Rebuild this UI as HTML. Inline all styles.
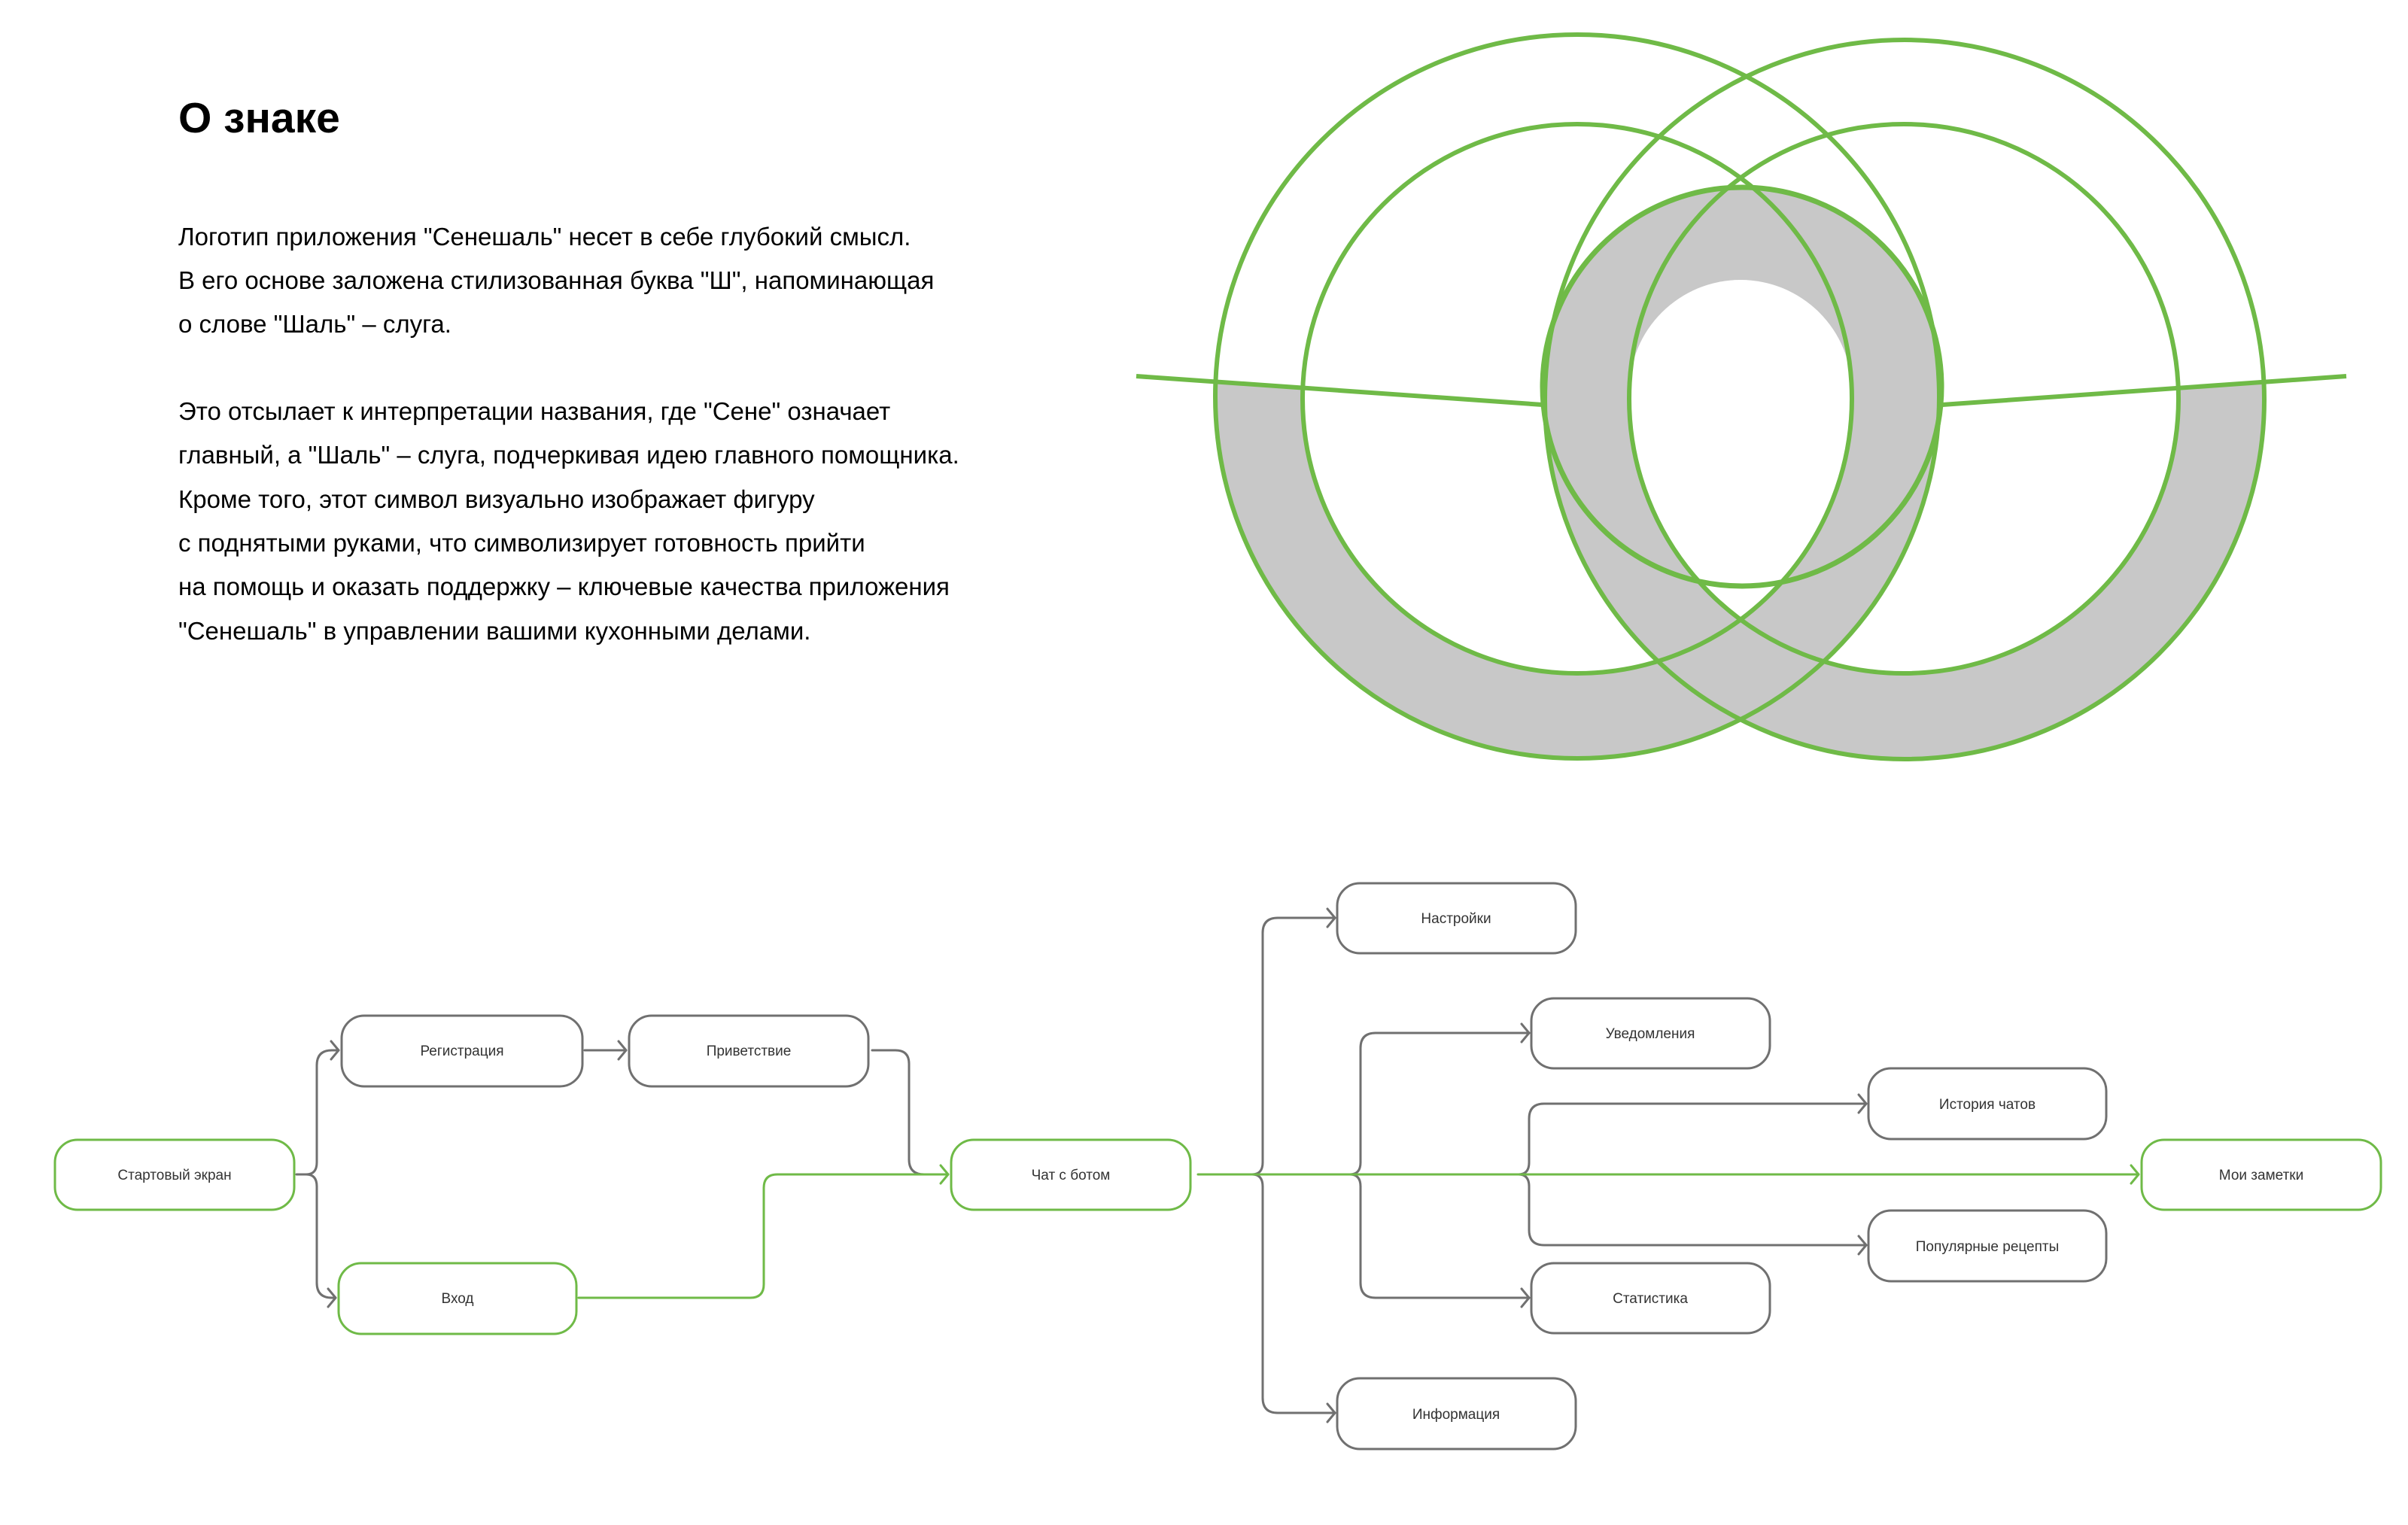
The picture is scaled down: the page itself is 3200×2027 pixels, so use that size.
<!DOCTYPE html>
<html><head><meta charset="utf-8">
<style>
html,body{margin:0;padding:0;background:#fff;}
svg{display:block;}
text{font-family:"Liberation Sans","Noto Sans CJK SC",sans-serif;}
</style></head>
<body>
<svg width="3200" height="2027" viewBox="0 0 3200 2027" xmlns="http://www.w3.org/2000/svg">
<defs>
<clipPath id="below"><polygon points="1506,499 2050,537 2581,537 3118,499 3118,1100 1506,1100"/></clipPath>
<clipPath id="cL"><circle cx="2096" cy="530" r="365"/></clipPath>
<clipPath id="cR"><circle cx="2530" cy="530" r="365"/></clipPath>
</defs>

<!-- Text -->
<text x="237" y="176" font-size="57" font-weight="bold" fill="#000">О знаке</text>
<g font-size="33" fill="#000">
<text x="237" y="326">Логотип приложения "Сенешаль" несет в себе глубокий смысл.</text>
<text x="237" y="384">В его основе заложена стилизованная буква "Ш", напоминающая</text>
<text x="237" y="442">о слове "Шаль" – слуга.</text>
<text x="237" y="558">Это отсылает к интерпретации названия, где "Сене" означает</text>
<text x="237" y="616">главный, а "Шаль" – слуга, подчеркивая идею главного помощника.</text>
<text x="237" y="675">Кроме того, этот символ визуально изображает фигуру</text>
<text x="237" y="733">с поднятыми руками, что символизирует готовность прийти</text>
<text x="237" y="791">на помощь и оказать поддержку – ключевые качества приложения</text>
<text x="237" y="850">"Сенешаль" в управлении вашими кухонными делами.</text>
</g>

<!-- Logo -->
<g clip-path="url(#below)" fill="#c8c8c8" fill-rule="evenodd">
<path d="M1615,527 a481,481 0 1,0 962,0 a481,481 0 1,0 -962,0 Z M1731,530 a365,365 0 1,0 730,0 a365,365 0 1,0 -730,0 Z"/>
<path d="M2053,531 a478,478 0 1,0 956,0 a478,478 0 1,0 -956,0 Z M2165,530 a365,365 0 1,0 730,0 a365,365 0 1,0 -730,0 Z"/>
</g>
<circle cx="2315" cy="514" r="265" fill="#c8c8c8"/>
<g clip-path="url(#cL)"><g clip-path="url(#cR)" fill="#fff">
<circle cx="2313" cy="520" r="148"/>
<rect x="2100" y="520" width="430" height="400"/>
</g></g>
<g fill="none" stroke="#6fba47" stroke-width="6">
<circle cx="2096" cy="527" r="481"/>
<circle cx="2531" cy="531" r="478"/>
<circle cx="2096" cy="530" r="365"/>
<circle cx="2530" cy="530" r="365"/>
<circle cx="2315" cy="514" r="265" stroke-width="7"/>
<line x1="1510" y1="500" x2="2050" y2="538"/>
<line x1="2581" y1="538" x2="3118" y2="500"/>
</g>

<!-- Flowchart connectors -->
<g fill="none" stroke="#707070" stroke-width="3" stroke-linecap="round" stroke-linejoin="round">
<path d="M394,1561 H407 Q421,1561 421,1545 V1416 Q421,1396 441,1396 H450"/>
<path d="M407,1561 Q421,1561 421,1577 V1705 Q421,1725 441,1725 H446"/>
<path d="M440,1384 L450,1396 L440,1408"/>
<path d="M436,1713 L446,1725 L436,1737"/>
<path d="M777,1396 H832"/>
<path d="M822,1384 L832,1396 L822,1408"/>
<path d="M1159,1396 H1190 Q1208,1396 1208,1414 V1541 Q1208,1561 1228,1561"/>
<path d="M1774,1220 H1698 Q1678,1220 1678,1240 V1545 Q1678,1561 1664,1561 Q1678,1561 1678,1577 V1858 Q1678,1878 1698,1878 H1774"/>
<path d="M1764,1208 L1774,1220 L1764,1232"/>
<path d="M1764,1866 L1774,1878 L1764,1890"/>
<path d="M2032,1373 H1828 Q1808,1373 1808,1393 V1545 Q1808,1561 1794,1561 Q1808,1561 1808,1577 V1705 Q1808,1725 1828,1725 H2032"/>
<path d="M2022,1361 L2032,1373 L2022,1385"/>
<path d="M2022,1713 L2032,1725 L2022,1737"/>
<path d="M2480,1467 H2052 Q2032,1467 2032,1487 V1545 Q2032,1561 2018,1561 Q2032,1561 2032,1577 V1635 Q2032,1655 2052,1655 H2480"/>
<path d="M2470,1455 L2480,1467 L2470,1479"/>
<path d="M2470,1643 L2480,1655 L2470,1667"/>
</g>
<g fill="none" stroke="#6fba47" stroke-width="3" stroke-linecap="round" stroke-linejoin="round">
<path d="M769,1725 H997 Q1015,1725 1015,1707 V1579 Q1015,1561 1033,1561 H1260"/>
<path d="M1250,1549 L1260,1561 L1250,1573"/>
<path d="M1592,1561 H2842"/>
<path d="M2832,1549 L2842,1561 L2832,1573"/>
</g>

<!-- Nodes -->
<g fill="#fff" stroke-width="3">
<rect x="73" y="1515" width="318" height="93" rx="30" stroke="#6fba47"/>
<rect x="454" y="1350" width="320" height="94" rx="30" stroke="#707070"/>
<rect x="836" y="1350" width="318" height="94" rx="30" stroke="#707070"/>
<rect x="450" y="1679" width="316" height="94" rx="30" stroke="#6fba47"/>
<rect x="1264" y="1515" width="318" height="93" rx="30" stroke="#6fba47"/>
<rect x="1777" y="1174" width="317" height="93" rx="30" stroke="#707070"/>
<rect x="2035" y="1327" width="317" height="93" rx="30" stroke="#707070"/>
<rect x="2483" y="1420" width="316" height="94" rx="30" stroke="#707070"/>
<rect x="2846" y="1515" width="318" height="93" rx="30" stroke="#6fba47"/>
<rect x="2483" y="1609" width="316" height="94" rx="30" stroke="#707070"/>
<rect x="2035" y="1679" width="317" height="93" rx="30" stroke="#707070"/>
<rect x="1777" y="1832" width="317" height="94" rx="30" stroke="#707070"/>
</g>
<g font-size="19" fill="#333" text-anchor="middle">
<text x="232" y="1568">Стартовый экран</text>
<text x="614" y="1403">Регистрация</text>
<text x="995" y="1403">Приветствие</text>
<text x="608" y="1732">Вход</text>
<text x="1423" y="1568">Чат с ботом</text>
<text x="1935" y="1227">Настройки</text>
<text x="2193" y="1380">Уведомления</text>
<text x="2641" y="1474">История чатов</text>
<text x="3005" y="1568">Мои заметки</text>
<text x="2641" y="1663">Популярные  рецепты</text>
<text x="2193" y="1732">Статистика</text>
<text x="1935" y="1886">Информация</text>
</g>
</svg>
</body></html>
